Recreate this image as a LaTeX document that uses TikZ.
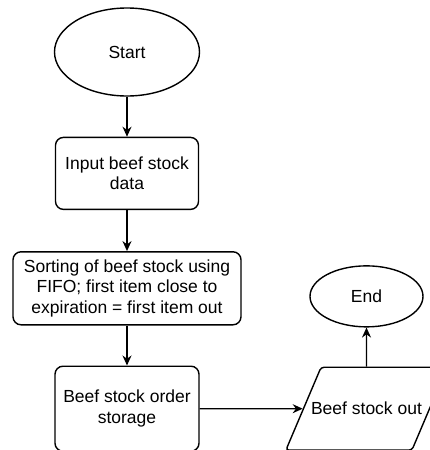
\documentclass[tikz,border=0pt]{standalone}
\usepackage{fontspec}
\setmainfont{Liberation Sans}
\usetikzlibrary{arrows.meta}
\usetikzlibrary{positioning}
\usetikzlibrary{shapes.geometric}

\begin{document}
\begin{tikzpicture}[x=1pt,y=-1pt,->,>={Stealth[length=10pt,width=9pt]},line width=1.4pt,node distance=40pt,
	term node/.style={ellipse,draw,inner sep=0pt,font=\fontsize{17.5}{20.5}\selectfont},
	proc node/.style={rectangle,rounded corners=8pt,draw,align=center,inner sep=0pt,font=\fontsize{17.5}{20.5}\selectfont},
	io node/.style={trapezium,trapezium left angle=67,trapezium right angle=113,rounded corners=3pt,draw,inner xsep=-10pt,inner ysep=35pt,font=\fontsize{17.5}{20.5}\selectfont}]

				\useasboundingbox (0,0) rectangle (429,450);

				\node[term node,minimum width=145pt,minimum height=88pt] (start) at (127,52) {Start};
				\node[proc node,minimum width=143pt,minimum height=72pt] (input) [below=of start] {Input beef stock\\data};
				\node[proc node,minimum width=228pt,minimum height=73pt] (sort) [below=41pt of input] {Sorting of beef stock using\\FIFO; first item close to\\expiration = first item out};
				\node[proc node,minimum width=144pt,minimum height=85pt] (store) [below=of sort] {Beef stock order\\storage};
				\node[io node] (out) [right=103pt of store] {Beef stock out};
				\node[term node,minimum width=113pt,minimum height=61pt] (end) [above=39pt of out] {End};

				\path
				(start) edge (input)
				(input) edge (sort)
				(sort) edge (store)
				(store) edge (out)
				(out) edge (end);

\end{tikzpicture}
\end{document}
